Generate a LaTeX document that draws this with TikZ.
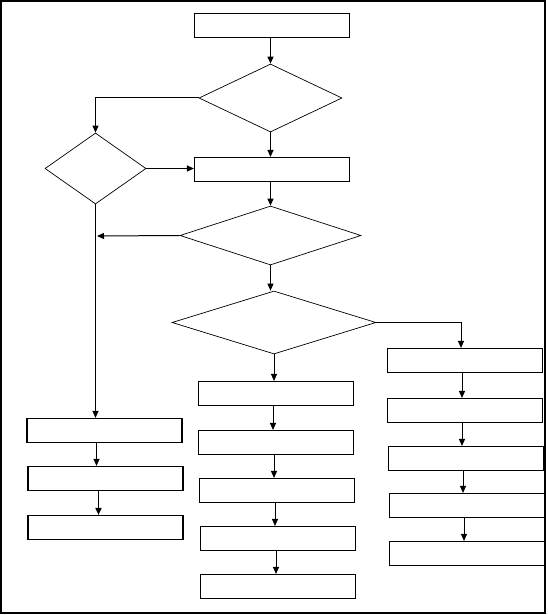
\documentclass[tikz,border=0pt]{standalone}
\usetikzlibrary{shapes.geometric,arrows.meta}
\begin{document}
\begin{tikzpicture}[x=1pt,y=-1pt,
  box/.style={draw,line width=1.1pt,rectangle,minimum width=155pt,minimum height=24pt,inner sep=0pt},
  dia/.style={draw,line width=0.7pt,diamond,inner sep=0pt},
  arr/.style={line width=1pt,-{Triangle[width=6pt,length=7pt]}},
  ln/.style={line width=1pt}]
\useasboundingbox (0,0) rectangle (547,615);
\draw[line width=1.2pt] (1,1) rectangle (545,613);
% top column
\node[box] (b1) at (272,25.5) {};
\node[dia,minimum width=143pt,minimum height=68pt] (d1) at (270.5,98) {};
\node[dia,minimum width=101pt,minimum height=71pt] (d2) at (95.5,168.5) {};
\node[box] (b2) at (272,169.5) {};
\node[dia,minimum width=181pt,minimum height=59pt] (d3) at (270.5,235.5) {};
\node[dia,minimum width=204pt,minimum height=63pt] (d4) at (274,322.5) {};
\coordinate (j) at (97,236);
% left column
\node[box] (l1) at (104.5,430.5) {};
\node[box] (l2) at (105.5,478.5) {};
\node[box] (l3) at (105.5,527.5) {};
% middle column
\node[box] (m1) at (276,393.5) {};
\node[box] (m2) at (276,442.5) {};
\node[box] (m3) at (277,490.5) {};
\node[box] (m4) at (278,538.5) {};
\node[box] (m5) at (278,586.5) {};
% right column
\node[box] (r1) at (465,360.5) {};
\node[box] (r2) at (465,410.5) {};
\node[box] (r3) at (466,458.5) {};
\node[box] (r4) at (467,505.5) {};
\node[box] (r5) at (467,553.5) {};
% connectors
\draw[arr] (b1.south -| d1.north) -- (d1.north);
\draw[arr] (d1.west) -| (d2.north);
\draw[arr] (d1.south) -- (d1.south |- b2.north);
\draw[arr] (d2.east) -- (d2.east -| b2.west);
\draw[arr] (b2.south -| d3.north) -- (d3.north);
\draw[arr] (d3.west) -- (j);
\draw[arr] (d3.south) -- (d3.south |- d4.north);
\draw[arr] (d2.south) -- (d2.south |- l1.north);
\draw[arr] (d4.south) -- (d4.south |- m1.north);
\draw[arr] (d4.east) -| ([xshift=-4pt]r1.north);
\draw[arr] ([xshift=-8pt]l1.south) -- ([xshift=-8pt]l1.south |- l2.north);
\draw[arr,line width=1.6pt] ([xshift=-7pt]l2.south) -- ([xshift=-7pt]l2.south |- l3.north);
\draw[arr] ([xshift=-3pt]m1.south) -- ([xshift=-3pt]m1.south |- m2.north);
\draw[arr] ([xshift=-2pt]m2.south) -- ([xshift=-2pt]m2.south |- m3.north);
\draw[arr] ([xshift=-2pt]m3.south) -- ([xshift=-2pt]m3.south |- m4.north);
\draw[arr] ([xshift=-2pt]m4.south) -- ([xshift=-2pt]m4.south |- m5.north);
\draw[arr] ([xshift=-3pt]r1.south) -- ([xshift=-3pt]r1.south |- r2.north);
\draw[arr] ([xshift=-3pt]r2.south) -- ([xshift=-3pt]r2.south |- r3.north);
\draw[arr] ([xshift=-3pt]r3.south) -- ([xshift=-3pt]r3.south |- r4.north);
\draw[arr] ([xshift=-3pt]r4.south) -- ([xshift=-3pt]r4.south |- r5.north);
\end{tikzpicture}
\end{document}
